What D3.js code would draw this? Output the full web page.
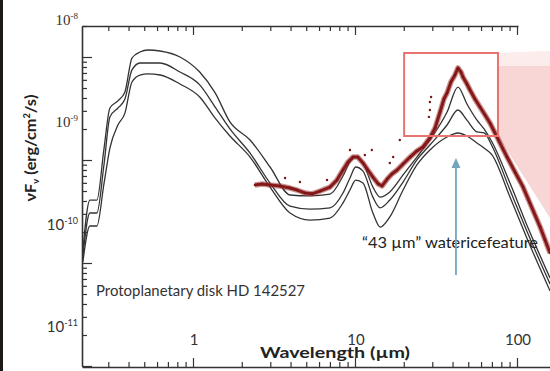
<!DOCTYPE html>
<html>
<head>
<meta charset="utf-8">
<script src="https://cdn.jsdelivr.net/npm/d3@7"></script>
<style>
  body { margin: 0; background: #fff; }
  svg { display: block; }
</style>
</head>
<body>
<svg width="550" height="371"></svg>
<script>
var width = 550,
    height = 371;

// model SEDs: one wavelength grid (um), three fluxes (erg/cm2/s)
var modelWave = [0.209, 0.231, 0.255, 0.282, 0.307, 0.344, 0.380, 0.420, 0.471, 0.527, 0.626, 0.831,
    1.10, 1.37, 1.69, 2.25, 2.99, 3.97, 5.27, 7.01, 8.43, 9.31, 10.1, 11.2, 12.9, 14.3, 16.4, 19.8,
    24.1, 29.0, 37.0, 43.2, 49.1, 56.6, 62.6, 70.1, 90.5, 115, 160];
var modelTop = [5.65e-11, 1.74e-10, 1.74e-10, 5.48e-10, 1.38e-9, 1.62e-9, 1.98e-9, 4.25e-9, 4.87e-9, 5.09e-9,
    4.98e-9, 4.35e-9, 3.10e-9, 1.94e-9, 1.01e-9, 6.72e-10, 3.66e-10, 1.95e-10, 1.91e-10, 1.99e-10, 2.99e-10,
    4.10e-10, 4.58e-10, 4.01e-10, 2.33e-10, 1.86e-10, 2.09e-10, 3.06e-10, 4.58e-10, 6.72e-10, 1.26e-9,
    2.21e-9, 1.51e-9, 1.05e-9, 8.61e-10, 6.42e-10, 2.55e-10, 9.93e-11, 3.01e-11];
var modelMid = [4.94e-11, 1.30e-10, 1.30e-10, 3.83e-10, 1.13e-9, 1.38e-9, 1.69e-9, 3.25e-9, 3.80e-9, 3.80e-9,
    3.80e-9, 3.10e-9, 2.32e-9, 1.41e-9, 8.61e-10, 5.01e-10, 2.55e-10, 1.52e-10, 1.42e-10, 1.46e-10, 2.04e-10,
    2.86e-10, 3.66e-10, 3.34e-10, 1.86e-10, 1.46e-10, 1.74e-10, 2.61e-10, 4.29e-10, 6.00e-10, 9.42e-10,
    1.32e-9, 1.05e-9, 8.05e-10, 7.87e-10, 5.87e-10, 2.18e-10, 8.67e-11, 2.63e-11];
var modelLow = [4.32e-11, 9.70e-11, 9.70e-11, 2.50e-10, 5.61e-10, 9.42e-10, 1.23e-9, 2.48e-9, 2.90e-9, 2.97e-9,
    2.90e-9, 2.37e-9, 1.77e-9, 1.10e-9, 7.35e-10, 4.58e-10, 2.33e-10, 1.30e-10, 1.11e-10, 1.16e-10, 1.63e-10,
    2.18e-10, 2.73e-10, 2.55e-10, 1.30e-10, 9.48e-11, 1.19e-10, 2.18e-10, 3.83e-10, 5.37e-10, 7.19e-10,
    7.87e-10, 7.35e-10, 6.28e-10, 5.61e-10, 4.80e-10, 1.86e-10, 7.41e-11, 2.25e-11];

// observed spectrum (dark red band)
var dataWave = [2.41, 2.67, 2.99, 3.44, 3.97, 4.39, 4.91, 5.43, 6.08, 7.01, 7.74, 8.43, 9.06, 9.72, 10.4,
    11.2, 12.0, 12.9, 13.9, 14.7, 15.8, 16.9, 18.2, 19.8, 21.9, 24.1, 26.3, 29.0, 31.2, 33.5, 35.4, 37.0,
    39.1, 41.4, 43.2, 45.1, 46.4, 49.1, 51.3, 55.0, 59.1, 63.5, 68.1, 75.3, 82.0, 86.8, 97.2, 109, 120,
    139, 149, 160];
var dataFlux = [2.44e-10, 2.50e-10, 2.44e-10, 2.39e-10, 2.28e-10, 2.18e-10, 2.04e-10, 2.00e-10, 2.13e-10,
    2.33e-10, 2.73e-10, 3.42e-10, 4.10e-10, 4.58e-10, 4.58e-10, 4.01e-10, 3.42e-10, 2.92e-10, 2.50e-10,
    2.39e-10, 2.79e-10, 3.13e-10, 3.42e-10, 3.92e-10, 4.58e-10, 5.25e-10, 5.74e-10, 7.03e-10, 8.81e-10,
    1.26e-9, 1.69e-9, 1.94e-9, 2.48e-9, 2.90e-9, 3.40e-9, 3.10e-9, 2.77e-9, 2.37e-9, 2.07e-9, 1.69e-9,
    1.41e-9, 1.18e-9, 9.85e-10, 7.19e-10, 5.48e-10, 4.58e-10, 3.27e-10, 2.33e-10, 1.63e-10, 9.48e-11,
    7.08e-11, 5.28e-11];
// stray points above the band
var strayWave = [3.70, 4.57, 6.72, 9.31, 11.5, 12.7, 16.4, 17.2, 18.9, 28.6, 29.0, 29.0, 29.5];
var strayFlux = [2.86e-10, 2.61e-10, 2.73e-10, 5.37e-10, 4.80e-10, 5.37e-10, 4.01e-10, 4.58e-10, 6.72e-10,
    1.13e-9, 1.32e-9, 1.58e-9, 1.77e-9];

var xTickLabels = [1, 10, 100];
var yTickLabels = [1e-8, 1e-9, 1e-10, 1e-11];
var yTickExponents = ["-8", "-9", "-10", "-11"];

// zoom box round the 43 um feature and the arrow pointing at it
var boxWave = [20.1, 76.3];
var boxFlux = [4.76e-9, 7.35e-10];
var arrowWave = 42.0;
var arrowFlux = [3.22e-11, 4.48e-10];

var frame = { left: 82, right: 550, top: 26, bottom: 367, topEnd: 518 };

var x = d3.scaleLog().domain([1, 100]).range([193, 517]);
var y = d3.scaleLog().domain([1e-11, 1e-8]).range([327, 20]);
// the tick marks of the pasted plot sit lower than the typed labels
var yTick = d3.scaleLog().domain([1e-11, 2e-8]).range([366, 26]);

var svg = d3.select("svg");

svg.append("rect")
    .attr("x", 0).attr("y", 0)
    .attr("width", 3).attr("height", height)
    .attr("fill", "#1c1914");

// pink callout fan to the right of the box
var xEnd = x.invert(width);
svg.append("polygon")
    .attr("points", [[boxWave[1], boxFlux[0]], [xEnd, 5.0e-9], [xEnd, 3.55e-9], [boxWave[1], 3.55e-9]]
        .map(function (p) { return [x(p[0]), y(p[1])].join(","); }).join(" "))
    .attr("fill", "#fcecec");
svg.append("polygon")
    .attr("points", [[boxWave[1], 3.55e-9], [xEnd, 3.55e-9], [xEnd, 1.16e-10], [boxWave[1], boxFlux[1]]]
        .map(function (p) { return [x(p[0]), y(p[1])].join(","); }).join(" "))
    .attr("fill", "#f8d6d6");

svg.append("clipPath").attr("id", "plotclip")
    .append("rect")
    .attr("x", frame.left).attr("y", frame.top)
    .attr("width", frame.right - frame.left).attr("height", frame.bottom - frame.top);

var plot = svg.append("g").attr("clip-path", "url(#plotclip)");

// texts inside the plot
svg.append("text")
    .attr("x", 96).attr("y", 296)
    .attr("textLength", 209).attr("lengthAdjust", "spacingAndGlyphs")
    .style("font-family", "Lato, 'Open Sans', sans-serif")
    .style("font-size", "15px")
    .attr("fill", "#333")
    .text("Protoplanetary disk HD 142527");

svg.append("text")
    .attr("x", 362).attr("y", 248)
    .attr("textLength", 176).attr("lengthAdjust", "spacingAndGlyphs")
    .style("font-family", "Lato, 'Open Sans', sans-serif")
    .style("font-size", "16px")
    .attr("fill", "#222")
    .text("\u201C43\u00A0\u00B5m\u201D watericefeature");

// observed data
var dataPts = dataWave.map(function (w, i) { return [w, dataFlux[i]]; });
var strayPts = strayWave.map(function (w, i) { return [w, strayFlux[i]]; });

var line = d3.line()
    .x(function (d) { return x(d[0]); })
    .y(function (d) { return y(d[1]); });

// models
var models = [modelTop, modelMid, modelLow].map(function (flux) {
    return modelWave.map(function (w, i) { return [w, flux[i]]; });
});

plot.selectAll("path.model")
    .data(models)
    .join("path")
    .attr("class", "model")
    .attr("d", line.curve(d3.curveMonotoneX))
    .attr("fill", "none")
    .attr("stroke", "#333")
    .attr("stroke-width", 1.3);

// fuzzy edge, then the dark core of the band
plot.append("path")
    .datum(dataPts)
    .attr("d", line.curve(d3.curveLinear))
    .attr("fill", "none")
    .attr("stroke", "#a23a3a")
    .attr("stroke-opacity", 0.55)
    .attr("stroke-width", 5.5)
    .attr("stroke-linejoin", "round");
plot.append("path")
    .datum(dataPts)
    .attr("d", line.curve(d3.curveLinear))
    .attr("fill", "none")
    .attr("stroke", "#861919")
    .attr("stroke-width", 3)
    .attr("stroke-linejoin", "round");

plot.selectAll("circle.pt")
    .data(dataPts.concat(strayPts))
    .join("circle")
    .attr("class", "pt")
    .attr("cx", function (d) { return x(d[0]); })
    .attr("cy", function (d) { return y(d[1]); })
    .attr("r", 1.2)
    .attr("fill", "#7d1515");

// red box
svg.append("rect")
    .attr("x", x(boxWave[0])).attr("y", y(boxFlux[0]))
    .attr("width", x(boxWave[1]) - x(boxWave[0]))
    .attr("height", y(boxFlux[1]) - y(boxFlux[0]))
    .attr("fill", "none")
    .attr("stroke", "#e9736e")
    .attr("stroke-width", 2);

// arrow
var ax = x(arrowWave), ay0 = y(arrowFlux[0]), ay1 = y(arrowFlux[1]);
svg.append("line")
    .attr("x1", ax).attr("x2", ax)
    .attr("y1", ay0).attr("y2", ay1 + 8)
    .attr("stroke", "#73a5bd")
    .attr("stroke-width", 1.8);
svg.append("path")
    .attr("d", "M" + ax + "," + ay1 + "L" + (ax - 4.5) + "," + (ay1 + 10) + "L" + (ax + 4.5) + "," + (ay1 + 10) + "Z")
    .attr("fill", "#73a5bd");

// axes
function isDecade(d) {
    var l = Math.log10(d);
    return Math.abs(l - Math.round(l)) < 1e-6;
}

var xBottom = x.copy().domain([x.invert(frame.left), x.invert(frame.right)]).range([frame.left, frame.right]);
var xTop = x.copy().domain([x.invert(frame.left), x.invert(frame.topEnd)]).range([frame.left, frame.topEnd]);
var yLeft = yTick.copy();

var gBottom = svg.append("g")
    .attr("transform", "translate(0," + frame.bottom + ")")
    .call(d3.axisTop(xBottom).tickValues(xBottom.ticks()).tickFormat("").tickSize(5).tickSizeOuter(0));
gBottom.selectAll(".tick line").filter(isDecade).attr("y2", -9);

var gTop = svg.append("g")
    .attr("transform", "translate(0," + frame.top + ")")
    .call(d3.axisBottom(xTop).tickValues(xTop.ticks()).tickFormat("").tickSize(5).tickSizeOuter(0));
gTop.selectAll(".tick line").filter(isDecade).attr("y2", 9);

var gLeft = svg.append("g")
    .attr("transform", "translate(" + frame.left + ",0)")
    .call(d3.axisRight(yLeft).tickValues(yLeft.ticks()).tickFormat("").tickSize(5).tickSizeOuter(0));
gLeft.selectAll(".tick line").filter(isDecade).attr("x2", 10);

svg.selectAll(".domain").attr("stroke", "#333").attr("stroke-width", 1.6);
svg.selectAll(".tick line").attr("stroke", "#333").attr("stroke-width", 1.2);

// tick labels
svg.selectAll("text.xlab")
    .data(xTickLabels)
    .join("text")
    .attr("class", "xlab")
    .attr("x", function (d) { return x(d) + 1; })
    .attr("y", 345)
    .attr("text-anchor", "middle")
    .style("font-family", "Lato, 'Open Sans', sans-serif")
    .style("font-size", "15px")
    .attr("fill", "#333")
    .text(function (d) { return d; });

var ylab = svg.selectAll("text.ylab")
    .data(yTickLabels)
    .join("text")
    .attr("class", "ylab")
    .attr("x", 78)
    .attr("y", function (d) { return y(d) + 5; })
    .attr("text-anchor", "end")
    .style("font-family", function (d, i) { return i < 2 ? "'Liberation Serif', serif" : "Lato, sans-serif"; })
    .style("font-size", "15px")
    .attr("fill", "#333");
ylab.append("tspan").text("10");
ylab.append("tspan")
    .attr("dy", -6)
    .style("font-size", "9px")
    .text(function (d, i) { return yTickExponents[i]; });

// axis titles
svg.append("text")
    .attr("x", 260).attr("y", 358)
    .attr("textLength", 150).attr("lengthAdjust", "spacingAndGlyphs")
    .style("font-family", "Lato, 'Open Sans', sans-serif")
    .style("font-size", "16px")
    .style("font-weight", "bold")
    .attr("fill", "#222")
    .text("Wavelength (\u00B5m)");

var yTitle = svg.append("text")
    .attr("transform", "translate(36,148) rotate(-90)")
    .attr("text-anchor", "middle")
    .attr("textLength", 107).attr("lengthAdjust", "spacingAndGlyphs")
    .style("font-family", "Lato, 'Open Sans', sans-serif")
    .style("font-size", "16px")
    .style("font-weight", "bold")
    .attr("fill", "#222");
yTitle.append("tspan").text("\u03BDF");
yTitle.append("tspan").attr("dy", 3).style("font-size", "9px").text("\u03BD");
yTitle.append("tspan").attr("dy", -3).text(" (erg/cm");
yTitle.append("tspan").attr("dy", -6).style("font-size", "9px").text("2");
yTitle.append("tspan").attr("dy", 6).text("/s)");
</script>
</body>
</html>
